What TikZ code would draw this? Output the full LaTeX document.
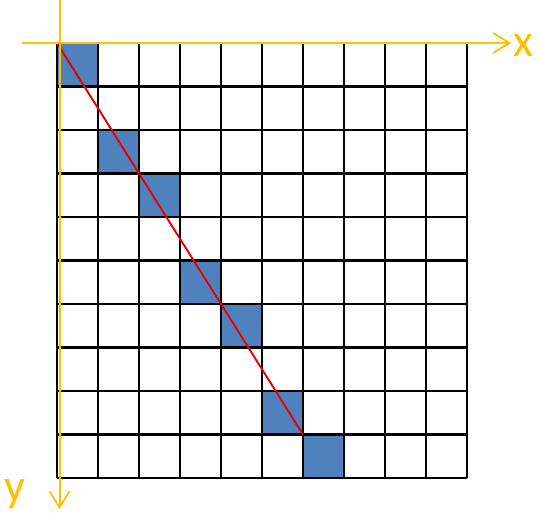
\documentclass[tikz,border=0pt]{standalone}
\usepackage{fontspec}
\setmainfont{Carlito}
\usetikzlibrary{arrows.meta}
\definecolor{axisgold}{RGB}{255,192,0}
\definecolor{cellblue}{RGB}{79,129,189}
\definecolor{linered}{RGB}{230,0,0}
\tikzset{
  gridline/.style={black, line width=2.7pt},
  axisline/.style={axisgold, line width=2pt, -{Straight Barb[length=16pt,width=20pt,line width=1.8pt]}},
  axislabel/.style={text=axisgold, font=\fontsize{46}{46}\selectfont, inner sep=0pt},
  hitcell/.style={fill=cellblue, draw=none},
}
\begin{document}
\begin{tikzpicture}[x=1pt,y=-1pt]
\useasboundingbox (0,0) rectangle (540,518);
\fill[white] (0,0) rectangle (540,518);
\def\gx{57}\def\gy{43}\def\cw{41}\def\ch{43.5}
\begin{scope}[shift={(\gx,\gy)}, x=\cw pt, y=-\ch pt]
  \foreach \c/\r in {0/0,1/2,2/3,3/5,4/6,5/8,6/9}
    \fill[hitcell] (\c,\r) rectangle ++(1,1);
  \foreach \i in {0,...,10} {
    \draw[gridline] (\i,0) -- (\i,10);
    \draw[gridline] (0,\i) -- (10,\i);
  }
  \coordinate (p0) at (0,0);
  \coordinate (p1) at (6,9);
  \draw[linered, line width=1.9pt] (p0) -- (p1);
\end{scope}
\coordinate (xs) at (22,43);
\coordinate (xe) at (511,43);
\coordinate (ys) at (59.5,0);
\coordinate (ye) at (59.5,509);
\draw[axisline] (xs) -- (xe);
\draw[axisline] (ys) -- (ye);
\node[axislabel] (xl) at (523,46) {x};
\node[axislabel] (yl) at (15,494) {y};
\end{tikzpicture}
\end{document}
